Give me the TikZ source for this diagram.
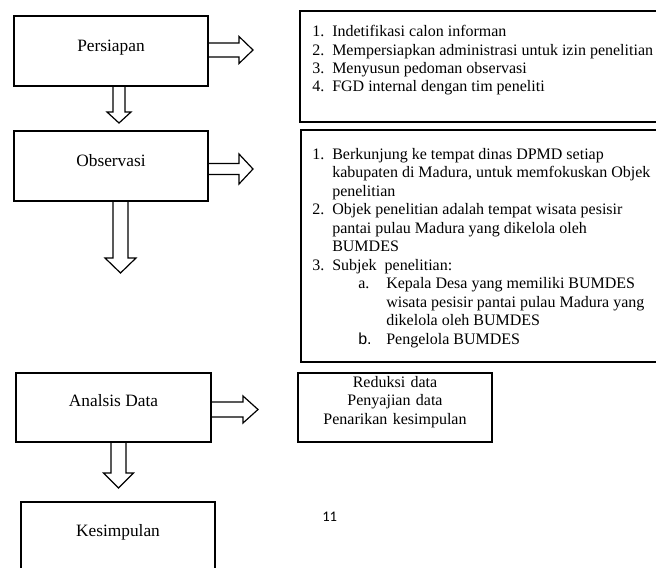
\documentclass[tikz,border=0pt]{standalone}
\usepackage{fontspec}
\setmainfont{Liberation Serif}
\newfontfamily\itemsans{Liberation Sans}
\newfontfamily\pagenumfont{Carlito}
\usetikzlibrary{fit,calc}
\tikzset{
  box/.style={draw=black, line width=0.9pt, inner sep=0pt},
  blockarrow/.style={draw=black, line width=0.9pt, line join=miter},
  steplabel/.style={inner sep=0pt, anchor=base, font=\fontsize{13}{15}\selectfont},
  itemtext/.style={inner sep=0pt, anchor=base west, font=\fontsize{12}{14}\selectfont},
}
% #1 source node anchor, #2 tip coordinate, #3 head length, #4 shaft half width, #5 head half width
\newcommand\RBlockArrow[5]{%
  \draw[blockarrow] ($(#1 |- #2)+(0,-#4)$) -- ($(#2)+(-#3,-#4)$) -- ($(#2)+(-#3,-#5)$) -- (#2)
    -- ($(#2)+(-#3,#5)$) -- ($(#2)+(-#3,#4)$) -- ($(#1 |- #2)+(0,#4)$);}
\newcommand\DBlockArrow[5]{%
  \draw[blockarrow] ($(#2 |- #1)+(-#4,0)$) -- ($(#2)+(-#4,-#3)$) -- ($(#2)+(-#5,-#3)$) -- (#2)
    -- ($(#2)+(#5,-#3)$) -- ($(#2)+(#4,-#3)$) -- ($(#2 |- #1)+(#4,0)$);}
\begin{document}
\begin{tikzpicture}[x=0.75pt, y=-0.75pt]
\useasboundingbox (0,0) rectangle (656,567);
\clip (0,0) rectangle (656,567);

% left step boxes
\node[box, fit={(14,16) (208,86)}] (persiapan) {};
\node[box, fit={(14,131) (208,201)}] (observasi) {};
\node[box, fit={(16,373) (211,442)}] (analisis) {};
\node[box, fit={(21,502) (215,585)}] (kesimpulan) {};

\node[steplabel] (lpersiapan) at (111,51) {Persiapan};
\node[steplabel] (lobservasi) at (111,166) {Observasi};
\node[steplabel] (lanalisis) at (113.5,406.5) {Analsis Data};
\node[steplabel] (lkesimpulan) at (118,536.5) {Kesimpulan};

% right detail boxes
\node[box, fit={(300,11) (662,122)}] (detail1) {};
\node[box, fit={(301,130) (662,362)}] (detail2) {};
\node[box, fit={(298,373) (492,442)}, align=center,
      font=\fontsize{12}{13.875}\selectfont] (detail3)
      {Reduksi data\\Penyajian data\\Penarikan kesimpulan};

% arrow tips
\coordinate (t1) at (253,50);
\coordinate (t2) at (253,169);
\coordinate (t3) at (258,409.5);
\coordinate (d1) at (119,123);
\coordinate (d2) at (120.5,273);
\coordinate (d3) at (118.5,488);

\RBlockArrow{persiapan.east}{t1}{14}{7}{13.5}
\RBlockArrow{observasi.east}{t2}{14}{5.5}{15}
\RBlockArrow{analisis.east}{t3}{15}{7.5}{13.5}
\DBlockArrow{persiapan.south}{d1}{11}{6}{12}
\DBlockArrow{observasi.south}{d2}{15}{7.5}{15.5}
\DBlockArrow{analisis.south}{d3}{15}{7.5}{15}

% box 1 text
\node[itemtext] (a1n) at (312,37) {1.};
\node[itemtext] (a1t) at (332,37) {Indetifikasi calon informan};
\node[itemtext] (a2n) at (312,55.3) {2.};
\node[itemtext] (a2t) at (332,55.3) {Mempersiapkan administrasi untuk izin penelitian};
\node[itemtext] (a3n) at (312,73.6) {3.};
\node[itemtext] (a3t) at (332,73.6) {Menyusun pedoman observasi};
\node[itemtext] (a4n) at (312,91.9) {4.};
\node[itemtext] (a4t) at (332,91.9) {FGD internal dengan tim peneliti};

% box 2 text
\node[itemtext] (b1n) at (312,159) {1.};
\node[itemtext] (b1t) at (332,159) {Berkunjung ke tempat dinas DPMD setiap};
\node[itemtext] (b1u) at (332,177.5) {kabupaten di Madura, untuk memfokuskan Objek};
\node[itemtext] (b1v) at (332,196) {penelitian};
\node[itemtext] (b2n) at (312,214.5) {2.};
\node[itemtext] (b2t) at (332,214.5) {Objek penelitian adalah tempat wisata pesisir};
\node[itemtext] (b2u) at (332,233) {pantai pulau Madura yang dikelola oleh};
\node[itemtext] (b2v) at (332,251.5) {BUMDES};
\node[itemtext] (b3n) at (312,270) {3.};
\node[itemtext] (b3t) at (332,270) {Subjek\ \ penelitian:};
\node[itemtext] (b3an) at (358,288.5) {a.};
\node[itemtext] (b3at) at (386,288.5) {Kepala Desa yang memiliki BUMDES};
\node[itemtext] (b3au) at (386,307) {wisata pesisir pantai pulau Madura yang};
\node[itemtext] (b3av) at (386,325.5) {dikelola oleh BUMDES};
\node[itemtext, font=\fontsize{12}{14}\itemsans] (b3bn) at (358,344) {b.};
\node[itemtext] (b3bt) at (386,344) {Pengelola BUMDES};

% page number
\node[inner sep=0pt, anchor=base west, font=\fontsize{11}{13}\pagenumfont] (pagenum) at (322,521) {11};
\end{tikzpicture}
\end{document}
